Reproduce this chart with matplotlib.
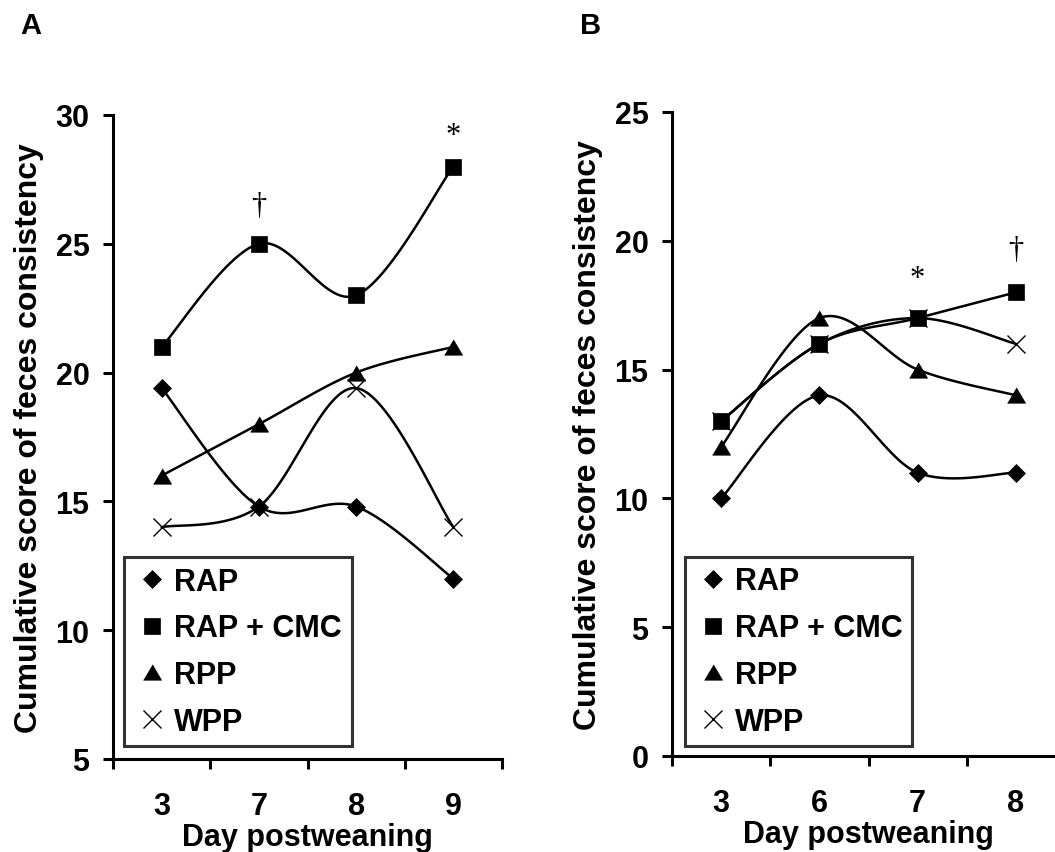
import numpy as np
import matplotlib
matplotlib.use("Agg")
import matplotlib.pyplot as plt
from matplotlib.lines import Line2D

plt.rcParams['font.family'] = ['Liberation Sans', 'DejaVu Sans']
plt.rcParams['font.weight'] = 'bold'

# ---------------- data ----------------
days_A = ["3", "7", "8", "9"]
rap_A = [19.4, 14.8, 14.8, 12.0]
rapcmc_A = [21.0, 25.0, 23.0, 28.0]
rpp_A = [16.0, 18.0, 20.0, 21.0]
wpp_A = [14.0, 14.8, 19.4, 14.0]

days_B = ["3", "6", "7", "8"]
rap_B = [10.0, 14.0, 11.0, 11.0]
rapcmc_B = [13.0, 16.0, 17.0, 18.0]
rpp_B = [12.0, 17.0, 15.0, 14.0]
wpp_B = [13.0, 16.0, 17.0, 16.0]

series_names = ["RAP", "RAP + CMC", "RPP", "WPP"]

# significance marks: (category index, y, symbol)
marks_A = [(1, 26.2, "\u2020"), (3, 28.9, "*")]
marks_B = [(2, 18.25, "*"), (3, 19.37, "\u2020")]

ylim_A = (5, 30)
ylim_B = (0, 25)
yticks_A = [5, 10, 15, 20, 25, 30]
yticks_B = [0, 5, 10, 15, 20, 25]

# ---------------- helpers ----------------
def smooth(xs, ys, n=40):
    """Excel-like smoothed line (Catmull-Rom / cubic Bezier)."""
    xs = np.asarray(xs, float)
    ys = np.asarray(ys, float)
    P = np.column_stack([xs, ys])
    ext = np.vstack([P[0], P, P[-1]])
    out = []
    t = np.linspace(0, 1, n)
    for i in range(len(P) - 1):
        p0, p1, p2, p3 = ext[i], ext[i + 1], ext[i + 2], ext[i + 3]
        c1 = p1 + (p2 - p0) / 6.0
        c2 = p2 - (p3 - p1) / 6.0
        seg = ((1 - t) ** 3)[:, None] * p1 + (3 * (1 - t) ** 2 * t)[:, None] * c1 \
            + (3 * (1 - t) * t ** 2)[:, None] * c2 + (t ** 3)[:, None] * p2
        out.append(seg if i == 0 else seg[1:])
    S = np.vstack(out)
    return S[:, 0], S[:, 1]

tri = [(-1.0, -0.85), (1.0, -0.85), (0.0, 0.85)]
styles = [
    dict(marker='D', ms=8.8, mfc='black', mec='black', mew=0.5),
    dict(marker='s', ms=11.2, mfc='black', mec='black', mew=0.5),
    dict(marker=tri, ms=13.0, mfc='black', mec='black', mew=0.5),
    dict(marker='x', ms=12.5, mfc='none', mec='black', mew=1.0),
]

LW = 1.8
SPINE = 2.2
FS_TICK = 22
FS_YLAB = 23
FS_XLAB = 22
FS_LEG = 22

fig = plt.figure(figsize=(10.55, 8.53), dpi=100)

def make_panel(rect, cats, data, ylim, yticks, marks, legend_anchor):
    ax = fig.add_axes(rect)
    x = np.arange(len(cats))
    for vals, st in zip(data, styles):
        sx, sy = smooth(x, vals)
        ax.plot(sx, sy, color='black', lw=LW, solid_capstyle='round', zorder=2)
        ax.plot(x, vals, linestyle='none', zorder=3, **st)
    ax.set_xlim(-0.5, len(cats) - 0.5)
    ax.set_ylim(*ylim)
    ax.set_yticks(yticks)
    ax.set_yticklabels([str(v) for v in yticks], fontsize=FS_TICK, fontweight='bold')
    ax.set_xticks(np.arange(len(cats) + 1) - 0.5)
    ax.set_xticklabels([])
    ax.set_xticks(x, minor=True)
    ax.set_xticklabels(cats, minor=True, fontsize=FS_TICK, fontweight='bold')
    ax.tick_params(axis='x', which='major', direction='out', length=7, width=SPINE)
    ax.tick_params(axis='x', which='minor', length=0, pad=23)
    ax.tick_params(axis='y', which='major', direction='out', length=7, width=SPINE, pad=10)
    for s in ['top', 'right']:
        ax.spines[s].set_visible(False)
    for s in ['left', 'bottom']:
        ax.spines[s].set_linewidth(SPINE)
    ax.set_xlabel("Day postweaning", fontsize=FS_XLAB, fontweight='bold', labelpad=0.5)
    ax.set_ylabel("Cumulative score of feces consistency", fontsize=FS_YLAB,
                  fontweight='bold', labelpad=8)
    for ci, yv, sym in marks:
        ax.text(ci, yv, sym, ha='center', va='baseline', fontsize=22,
                family=['Liberation Serif', 'DejaVu Serif'], fontweight='normal')
    handles = [Line2D([], [], linestyle='none', **st) for st in styles]
    leg = ax.legend(handles, series_names, loc='lower left',
                    bbox_to_anchor=legend_anchor, mode='expand', numpoints=1,
                    frameon=True, fancybox=False, edgecolor='black',
                    prop=dict(family='Liberation Sans', weight='bold', size=FS_LEG),
                    handlelength=1.25, handletextpad=0.08, labelspacing=0.55,
                    borderpad=0.3, borderaxespad=0.0)
    leg.get_frame().set_linewidth(SPINE)
    return ax

axA = make_panel([113 / 1055, 93 / 853, 389 / 1055, 644 / 853], days_A,
                 [rap_A, rapcmc_A, rpp_A, wpp_A], ylim_A, yticks_A, marks_A,
                 (0.028, 0.020, 0.586, 0.297))
axB = make_panel([672 / 1055, 96 / 853, 393 / 1055, 644 / 853], days_B,
                 [rap_B, rapcmc_B, rpp_B, wpp_B], ylim_B, yticks_B, marks_B,
                 (0.033, 0.0155, 0.578, 0.297))

fig.text(20 / 1055, (853 - 34) / 853, "A", fontsize=21, fontweight='bold')
fig.text(580 / 1055, (853 - 34) / 853, "B", fontsize=21, fontweight='bold')

fig.savefig("out.png", dpi=100)
